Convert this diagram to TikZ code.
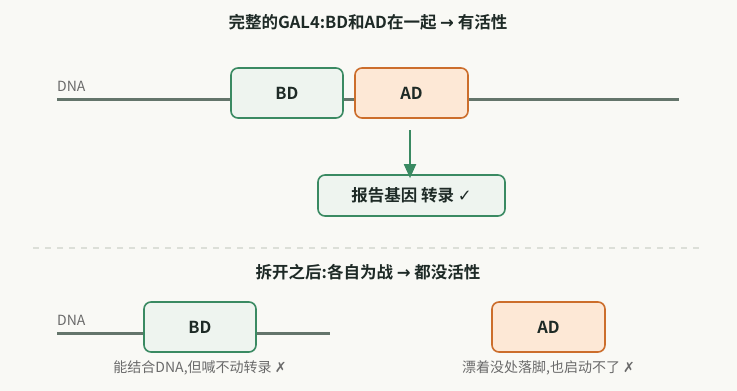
\documentclass[tikz,border=0pt]{standalone}
\usepackage{fontspec}
\setmainfont{Noto Sans CJK SC}[BoldFont={Noto Sans CJK SC Bold}]
\newfontfamily\symf{DejaVu Sans}
\usetikzlibrary{arrows.meta}
\definecolor{bgc}{HTML}{F9F9F5}
\definecolor{dnac}{HTML}{64756B}
\definecolor{bdline}{HTML}{3A8A62}
\definecolor{bdfill}{HTML}{EEF4EF}
\definecolor{adline}{HTML}{CC6E2C}
\definecolor{adfill}{HTML}{FDE8D6}
\definecolor{txtc}{HTML}{1E2A26}
\definecolor{capc}{HTML}{6A6A6A}
\definecolor{sepc}{HTML}{DCDFD8}
\tikzset{
  dnaline/.style={draw=dnac, line width=3pt},
  bdbox/.style={draw=bdline, fill=bdfill, line width=1.6pt, rounded corners=7pt, minimum width=112pt, minimum height=50pt, inner sep=0pt, font=\bfseries\fontsize{16.5}{19}\selectfont, text=txtc},
  adbox/.style={draw=adline, fill=adfill, line width=1.6pt, rounded corners=7pt, minimum width=113pt, minimum height=50pt, inner sep=0pt, font=\bfseries\fontsize{16.5}{19}\selectfont, text=txtc},
  repbox/.style={draw=bdline, fill=bdfill, line width=1.6pt, rounded corners=7pt, minimum width=187pt, minimum height=41pt, inner sep=0pt, font=\bfseries\fontsize{16.5}{19}\selectfont, text=txtc},
  titletxt/.style={font=\bfseries\fontsize{16.5}{19}\selectfont, text=txtc},
  dnatxt/.style={font=\fontsize{14}{16}\selectfont, text=capc, anchor=base west, inner sep=0pt},
  captxt/.style={font=\fontsize{14}{16}\selectfont, text=capc},
}
\begin{document}
\begin{tikzpicture}[x=1pt,y=-1pt]
\fill[bgc] (0,0) rectangle (737,391);
\useasboundingbox (0,0) rectangle (737,391);
% top
\node[titletxt] (t1) at (368,22) {完整的GAL4:BD和AD在一起 {\symf →} 有活性};
\coordinate (d1s) at (57,99);
\coordinate (d1e) at (679,99);
\draw[dnaline] (d1s) -- (d1e);
\node[dnatxt] (dna1) at (57,91) {DNA};
\node[bdbox] (bd1) at (287,93) {BD};
\node[adbox] (ad1) at (411.5,93) {AD};
\node[repbox] (rep) at (411.5,195.5) {报告基因 转录 {\mdseries\symf ✓}};
\coordinate (arrs) at (410,130);
\draw[draw=bdline, line width=1.8pt, -{Triangle[length=14pt,width=12pt]}] (arrs) -- ([yshift=-4pt]rep.north -| arrs);
% separator
\coordinate (s1) at (33,248);
\coordinate (s2) at (700,248);
\draw[sepc, line width=1.5pt, dash pattern=on 6pt off 6pt] (s1) -- (s2);
% bottom
\node[titletxt] (t2) at (368,272) {拆开之后:各自为战 {\symf →} 都没活性};
\coordinate (d2s) at (57,333);
\coordinate (d2e) at (330,333);
\draw[dnaline] (d2s) -- (d2e);
\node[dnatxt] (dna2) at (57,325) {DNA};
\node[bdbox] (bd2) at (200,327) {BD};
\node[adbox] (ad2) at (548.5,327) {AD};
\node[captxt] (c1) at (200,368) {能结合DNA,但喊不动转录 {\symf ✗}};
\node[captxt] (c2) at (548.5,368) {漂着没处落脚,也启动不了 {\symf ✗}};
\end{tikzpicture}
\end{document}
